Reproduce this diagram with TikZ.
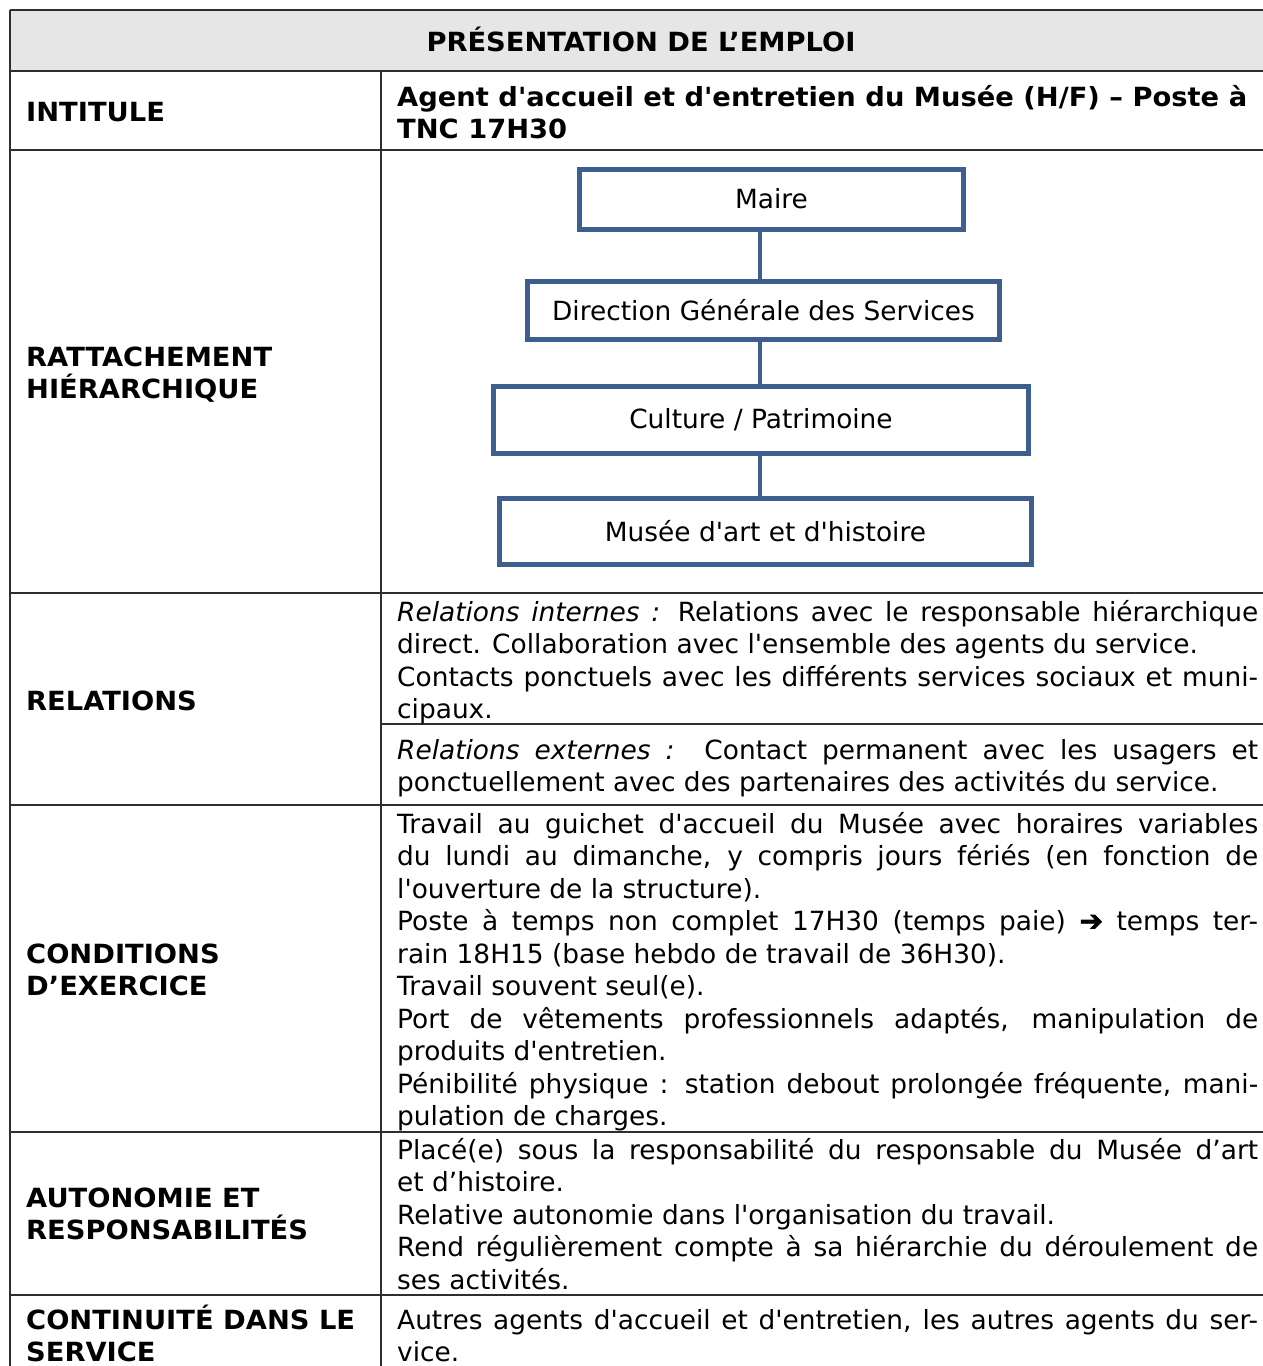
\documentclass[tikz,border=0pt]{standalone}
\usepackage{fontspec}
\newfontfamily\dv{DejaVu Sans}[BoldFeatures={FakeStretch=1.035}]
\newfontfamily\arrowfont{DejaVu Sans}[FakeBold=2.5]
\definecolor{gridc}{HTML}{2E2E2E}
\definecolor{hdrc}{HTML}{E6E6E6}
\definecolor{boxc}{HTML}{3E5E8E}
\begin{document}
\begin{tikzpicture}[x=1pt,y=-1pt,
  basefont/.style={font=\dv\fontsize{26.4}{32.5}\selectfont},
  jtxt/.style={basefont,inner sep=0pt,anchor=base west,text width=861pt,align=justify},
  lbl/.style={inner sep=0pt,anchor=base west,align=left,font=\dv\bfseries\fontsize{26.4}{32}\selectfont},
  gridline/.style={draw=gridc,line width=2pt},
  orgbox/.style={draw=boxc,line width=5pt,inner sep=0pt,basefont},
  orglink/.style={draw=boxc,line width=4.5pt}]
\useasboundingbox (0,0) rectangle (1263,1366);
% header
\fill[hdrc] (10,10) rectangle (1280,71);
\draw[gridline] (10,10) -- (1280,10);
\draw[gridline] (10,71) -- (1280,71);
\draw[gridline] (10,150) -- (1280,150);
\draw[gridline] (10,593) -- (1280,593);
\draw[gridline] (381,724) -- (1280,724);
\draw[gridline] (10,805) -- (1280,805);
\draw[gridline] (10,1132) -- (1280,1132);
\draw[gridline] (10,1295) -- (1280,1295);
\draw[gridline] (10,10) -- (10,1370);
\draw[gridline] (381,71) -- (381,1370);
\node[lbl,anchor=base] (title) at (641,51) {PRÉSENTATION DE L’EMPLOI};
% left labels (multi-line: anchored at last baseline)
\node[lbl] (lintitule) at (26,121) {INTITULE};
\node[lbl] (lrattach) at (26,398) {RATTACHEMENT\\HIÉRARCHIQUE};
\node[lbl] (lrel) at (26,710) {RELATIONS};
\node[lbl] (lcond) at (26,995) {CONDITIONS\\D’EXERCICE};
\node[lbl] (lauto) at (26,1239) {AUTONOMIE ET\\RESPONSABILITÉS};
\node[lbl] (lcont) at (26,1361) {CONTINUITÉ DANS LE\\SERVICE};
% right column
\node[lbl] (rintitule) at (397,138) {Agent d'accueil et d'entretien du Musée (H/F) – Poste à\\TNC 17H30};
% org chart
\node[orgbox,minimum width=384pt,minimum height=60pt] (maire) at (771.5,199) {Maire};
\node[orgbox,minimum width=472pt,minimum height=58pt] (dgs) at (763.5,310) {Direction Générale des Services};
\node[orgbox,minimum width=535pt,minimum height=67pt] (culture) at (761,419.5) {Culture / Patrimoine};
\node[orgbox,minimum width=532pt,minimum height=66pt] (musee) at (765.5,531) {Musée d'art et d'histoire};
\coordinate (spine) at (760,0);
\draw[orglink] (maire.south -| spine) -- (dgs.north -| spine);
\draw[orglink] (dgs.south -| spine) -- (culture.north -| spine);
\draw[orglink] (culture.south -| spine) -- (musee.north -| spine);
% relations
\node[jtxt] (rint) at (397,621) {\textit{Relations internes :} Relations avec le responsable hiérarchique\linebreak direct. Collaboration avec l'ensemble des agents du service.\\Contacts ponctuels avec les différents services sociaux et muni-\linebreak cipaux.};
\node[jtxt] (rext) at (397,759) {\textit{Relations externes :}\ \ Contact permanent avec les usagers et\linebreak ponctuellement avec des partenaires des activités du service.};
\node[jtxt] (rcond) at (397,833) {Travail au guichet d'accueil du Musée avec horaires variables\linebreak du lundi au dimanche, y compris jours fériés (en fonction de\linebreak l'ouverture de la structure).\\Poste à temps non complet 17H30 (temps paie) {\arrowfont\fontsize{28}{32.5}\selectfont ➔} temps ter-\linebreak rain 18H15 (base hebdo de travail de 36H30).\\Travail souvent seul(e).\\Port de vêtements professionnels adaptés, manipulation de\linebreak produits d'entretien.\\Pénibilité physique : station debout prolongée fréquente, mani-\linebreak pulation de charges.};
\node[jtxt] (rauto) at (397,1159) {Placé(e) sous la responsabilité du responsable du Musée d’art\linebreak et d’histoire.\\Relative autonomie dans l'organisation du travail.\\Rend régulièrement compte à sa hiérarchie du déroulement de\linebreak ses activités.};
\node[jtxt] (rcont) at (397,1329) {Autres agents d'accueil et d'entretien, les autres agents du ser-\linebreak vice.};
\end{tikzpicture}
\end{document}
